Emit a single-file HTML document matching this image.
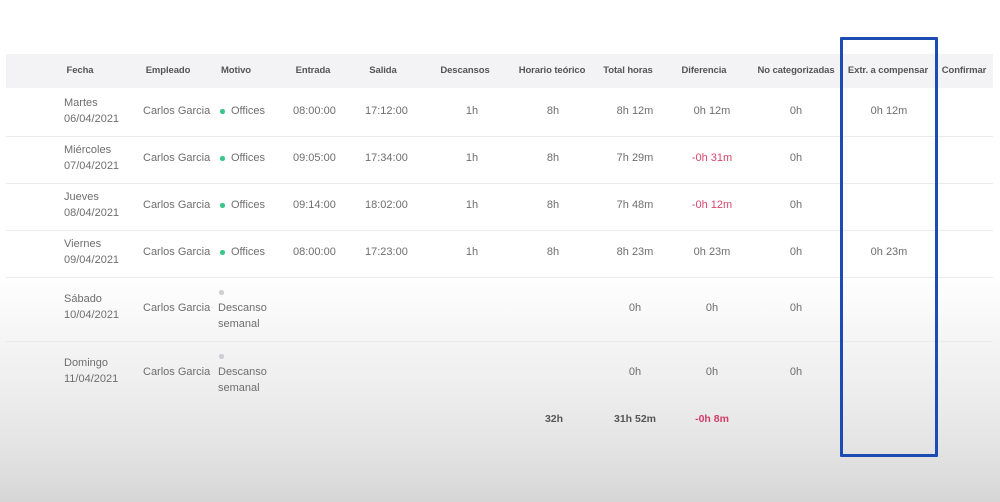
<!DOCTYPE html>
<html><head><meta charset="utf-8">
<style>
*{margin:0;padding:0;box-sizing:border-box}
html,body{width:1000px;height:502px;overflow:hidden}
body{position:relative;font-family:"Liberation Sans",sans-serif;
background:linear-gradient(to bottom,#ffffff 0px,#ffffff 270px,#fbfbfb 300px,#f4f4f5 345px,#ececed 400px,#e4e4e5 445px,#dcdcdd 480px,#d6d6d7 502px);}
.hb{position:absolute;left:6px;top:54px;width:987px;height:34px;background:#f3f3f5}
.ln{position:absolute;left:6px;width:987px;height:1px;background:#ebebed}
.h{position:absolute;top:64px;font-size:9.5px;font-weight:bold;color:#555;line-height:14px;white-space:nowrap;transform:translateX(-50%);letter-spacing:-0.1px}
.t{position:absolute;font-size:11px;color:#6e6e6e;line-height:16px;white-space:nowrap}
.c{transform:translateX(-50%)}
.r{color:#d9466c}
.b{font-weight:bold;color:#555;font-size:10.5px}
.br{font-weight:bold;color:#d33d68;font-size:10.5px}
.dot{position:absolute;width:4.5px;height:4.5px;border-radius:50%;background:#3cc58b}
.gd{position:absolute;width:4.5px;height:4.5px;border-radius:50%;background:#cfcfd2}
.box{position:absolute;left:840px;top:37px;width:98px;height:420px;border:3px solid #1b4bb3;border-radius:1px}
</style></head><body>
<div class="hb"></div>
<div class="ln" style="top:136px"></div>
<div class="ln" style="top:183px"></div>
<div class="ln" style="top:230px"></div>
<div class="ln" style="top:277px"></div>
<div class="ln" style="top:341px"></div>
<div class="ln" style="top:405px"></div>

<div class="h" style="left:80px">Fecha</div>
<div class="h" style="left:168px">Empleado</div>
<div class="h" style="left:236px">Motivo</div>
<div class="h" style="left:313px">Entrada</div>
<div class="h" style="left:383px">Salida</div>
<div class="h" style="left:465px">Descansos</div>
<div class="h" style="left:552px">Horario teórico</div>
<div class="h" style="left:628px">Total horas</div>
<div class="h" style="left:704px">Diferencia</div>
<div class="h" style="left:796px">No categorizadas</div>
<div class="h" style="left:888px">Extr. a compensar</div>
<div class="h" style="left:964px">Confirmar</div>

<!-- row 1 -->
<div class="t" style="left:64px;top:95px">Martes<br>06/04/2021</div>
<div class="t" style="left:143px;top:103px">Carlos Garcia</div>
<div class="dot" style="left:220px;top:109px"></div>
<div class="t" style="left:231px;top:103px">Offices</div>
<div class="t" style="left:293px;top:103px">08:00:00</div>
<div class="t" style="left:365px;top:103px">17:12:00</div>
<div class="t c" style="left:472px;top:103px">1h</div>
<div class="t c" style="left:553px;top:103px">8h</div>
<div class="t c" style="left:635px;top:103px">8h 12m</div>
<div class="t c" style="left:712px;top:103px">0h 12m</div>
<div class="t c" style="left:796px;top:103px">0h</div>
<div class="t c" style="left:889px;top:103px">0h 12m</div>

<!-- row 2 -->
<div class="t" style="left:64px;top:142px">Miércoles<br>07/04/2021</div>
<div class="t" style="left:143px;top:150px">Carlos Garcia</div>
<div class="dot" style="left:220px;top:156px"></div>
<div class="t" style="left:231px;top:150px">Offices</div>
<div class="t" style="left:293px;top:150px">09:05:00</div>
<div class="t" style="left:365px;top:150px">17:34:00</div>
<div class="t c" style="left:472px;top:150px">1h</div>
<div class="t c" style="left:553px;top:150px">8h</div>
<div class="t c" style="left:635px;top:150px">7h 29m</div>
<div class="t c r" style="left:712px;top:150px">-0h 31m</div>
<div class="t c" style="left:796px;top:150px">0h</div>

<!-- row 3 -->
<div class="t" style="left:64px;top:189px">Jueves<br>08/04/2021</div>
<div class="t" style="left:143px;top:197px">Carlos Garcia</div>
<div class="dot" style="left:220px;top:203px"></div>
<div class="t" style="left:231px;top:197px">Offices</div>
<div class="t" style="left:293px;top:197px">09:14:00</div>
<div class="t" style="left:365px;top:197px">18:02:00</div>
<div class="t c" style="left:472px;top:197px">1h</div>
<div class="t c" style="left:553px;top:197px">8h</div>
<div class="t c" style="left:635px;top:197px">7h 48m</div>
<div class="t c r" style="left:712px;top:197px">-0h 12m</div>
<div class="t c" style="left:796px;top:197px">0h</div>

<!-- row 4 -->
<div class="t" style="left:64px;top:236px">Viernes<br>09/04/2021</div>
<div class="t" style="left:143px;top:244px">Carlos Garcia</div>
<div class="dot" style="left:220px;top:250px"></div>
<div class="t" style="left:231px;top:244px">Offices</div>
<div class="t" style="left:293px;top:244px">08:00:00</div>
<div class="t" style="left:365px;top:244px">17:23:00</div>
<div class="t c" style="left:472px;top:244px">1h</div>
<div class="t c" style="left:553px;top:244px">8h</div>
<div class="t c" style="left:635px;top:244px">8h 23m</div>
<div class="t c" style="left:712px;top:244px">0h 23m</div>
<div class="t c" style="left:796px;top:244px">0h</div>
<div class="t c" style="left:889px;top:244px">0h 23m</div>

<!-- row 5 -->
<div class="t" style="left:64px;top:291px">Sábado<br>10/04/2021</div>
<div class="t" style="left:143px;top:300px">Carlos Garcia</div>
<div class="gd" style="left:219px;top:290px"></div>
<div class="t" style="left:218px;top:300px">Descanso<br>semanal</div>
<div class="t c" style="left:635px;top:300px">0h</div>
<div class="t c" style="left:712px;top:300px">0h</div>
<div class="t c" style="left:796px;top:300px">0h</div>

<!-- row 6 -->
<div class="t" style="left:64px;top:355px">Domingo<br>11/04/2021</div>
<div class="t" style="left:143px;top:364px">Carlos Garcia</div>
<div class="gd" style="left:219px;top:354px"></div>
<div class="t" style="left:218px;top:364px">Descanso<br>semanal</div>
<div class="t c" style="left:635px;top:364px">0h</div>
<div class="t c" style="left:712px;top:364px">0h</div>
<div class="t c" style="left:796px;top:364px">0h</div>

<!-- totals -->
<div class="t c b" style="left:554px;top:411px">32h</div>
<div class="t c b" style="left:635px;top:411px">31h 52m</div>
<div class="t c br" style="left:712px;top:411px">-0h 8m</div>

<div class="box"></div>
</body></html>
